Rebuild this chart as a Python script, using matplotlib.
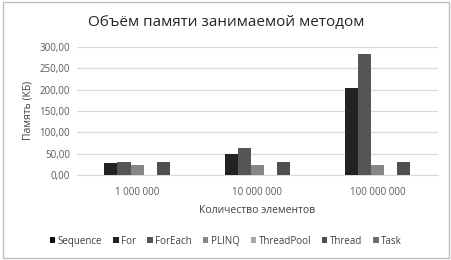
import numpy as np
import matplotlib
matplotlib.use('Agg')
import matplotlib.pyplot as plt
from matplotlib.ticker import FuncFormatter
from matplotlib.patches import Rectangle

plt.rcParams['font.family'] = ['Open Sans', 'DejaVu Sans']

categories = ['1 000 000', '10 000 000', '100 000 000']
series = ['Sequence', 'For', 'ForEach', 'PLINQ', 'ThreadPool', 'Thread', 'Task']
seq_vals = [0, 0, 0]
for_vals = [28, 50, 203]
foreach_vals = [31, 64, 283]
plinq_vals = [24, 24, 24]
threadpool_vals = [0, 0, 0]
thread_vals = [31, 31, 31]
task_vals = [0, 0, 0]
colors = ['#0d0d0d', '#222222', '#555555', '#858585', '#a6a6a6', '#4f4f4f', '#6e6e6e']

values = [seq_vals, for_vals, foreach_vals, plinq_vals, threadpool_vals, thread_vals, task_vals]

fig = plt.figure(figsize=(4.52, 2.6), dpi=100)
ax = fig.add_axes([0.170, 0.327, 0.799, 0.493])

x = np.arange(len(categories))
w = 13 / 120
for i, (name, vals) in enumerate(zip(series, values)):
    ax.bar(x + (i - 3) * w, vals, w, color=colors[i], label=name, zorder=3)

ax.set_xlim(-0.5, 2.5)
ax.set_ylim(0, 300)
ax.set_yticks(np.arange(0, 301, 50))
ax.yaxis.set_major_formatter(FuncFormatter(lambda v, p: f'{v:.2f}'.replace('.', ',')))
ax.set_xticks(x)
ax.set_xticklabels(categories)
ax.grid(axis='y', color='#d9d9d9', linewidth=0.9, zorder=0)
for s in ['top', 'right', 'left']:
    ax.spines[s].set_visible(False)
ax.spines['bottom'].set_color('#d9d9d9')
ax.tick_params(length=0, labelsize=7, colors='#595959', pad=5)
ax.tick_params(axis='x', pad=9)

ax.set_ylabel('Память (КБ)', fontsize=7.5, color='#404040', labelpad=4)
ax.set_xlabel('Количество элементов', fontsize=7.5, color='#404040', labelpad=5)
fig.text(0.5, 0.913, 'Объём памяти занимаемой методом', ha='center', va='center',
         fontsize=11, color='#262626')

ax.legend(loc='center', bbox_to_anchor=(0.5, 0.073), bbox_transform=fig.transFigure,
          ncol=7, frameon=False, fontsize=7, handlelength=0.55, handleheight=0.55,
          handletextpad=0.25, columnspacing=1.15, labelcolor='#404040')

fig.patches.append(Rectangle((0.006, 0.006), 0.988, 0.988, transform=fig.transFigure,
                             fill=False, edgecolor='#bfbfbf', linewidth=1))

fig.savefig('out.png', dpi=100)
